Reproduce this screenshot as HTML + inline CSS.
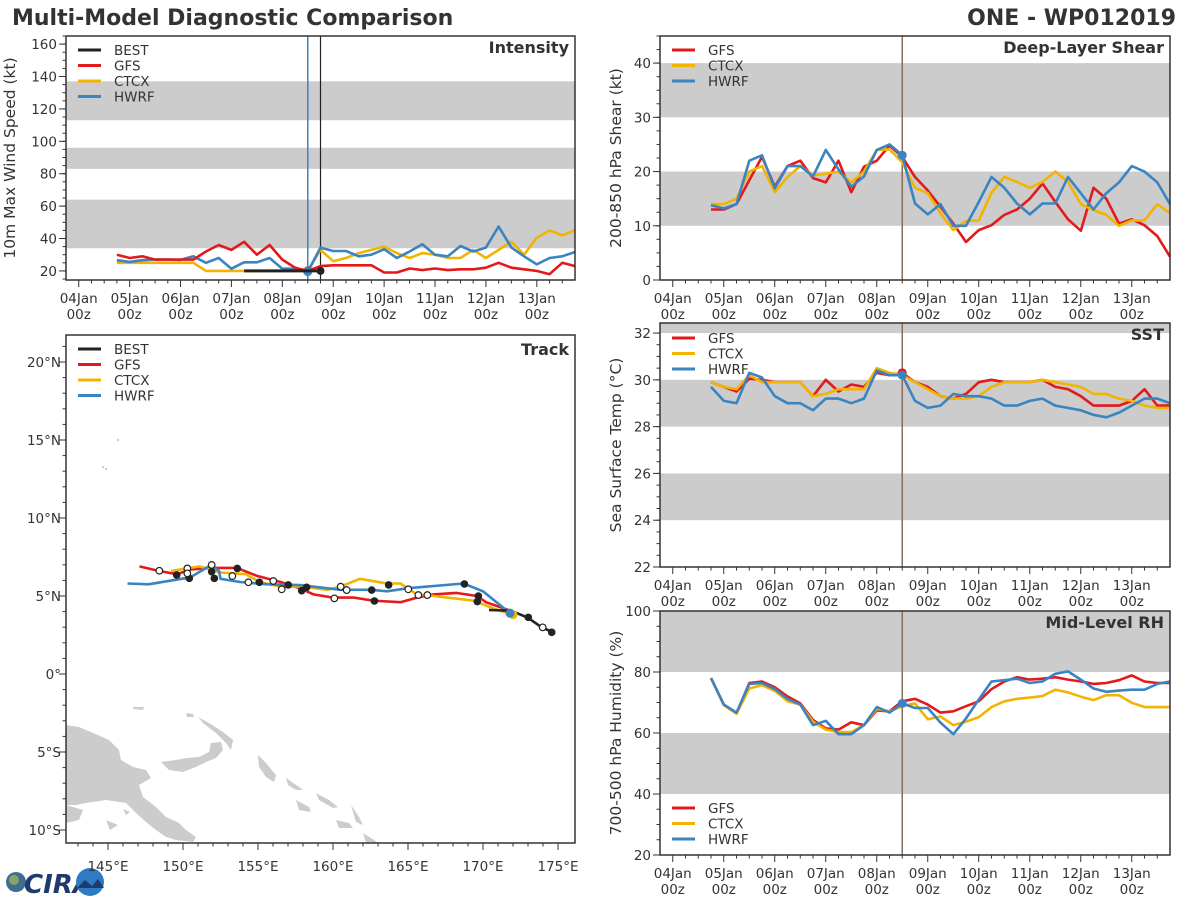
<!DOCTYPE html>
<html><head><meta charset="utf-8"><style>
html,body{margin:0;padding:0;background:#fff;}
svg{display:block;font-family:"DejaVu Sans","Liberation Sans",sans-serif;}
</style></head><body>
<svg id="chart" width="1200" height="900" viewBox="0 0 1200 900" xmlns="http://www.w3.org/2000/svg">
<rect x="0" y="0" width="1200" height="900" fill="#fff"/>
<text x="12" y="25" font-size="22" font-weight="bold" fill="#333">Multi-Model Diagnostic Comparison</text>
<text x="1176" y="25" font-size="22" font-weight="bold" fill="#333" text-anchor="end">ONE - WP012019</text>
<g>
<circle cx="16" cy="882" r="10" fill="#3d6e8f"/>
<circle cx="14" cy="880" r="5" fill="#8aa26a"/>
<text x="24" y="893" font-size="26" font-weight="bold" fill="#1f3a6e" font-style="italic">CIRA</text>
<circle cx="90" cy="882" r="14" fill="#2e7bc4"/>
<path d="M77 888 L85 880 L92 886 L98 879 L104 888 Z" fill="#1f3a6e"/>
</g>
</svg>
<script>
// ---------- data ----------
const dateLabels = ["04Jan","05Jan","06Jan","07Jan","08Jan","09Jan","10Jan","11Jan","12Jan","13Jan"];
const startDay = 0.75;   // 04Jan 18z (days since 04Jan 00z)
const stepDay = 0.25;    // 6-hourly
const initDay = 4.5;     // 08Jan 12z
const bestLastDay = 4.75;

const intensityGFS  = [30,28,29,27,27,27,27,32,36,33,38,30,36,27,22,20,23,23.5,23.5,23.5,23.5,19,19,21.5,20.5,21.5,20.5,21,21,22,25,22,21,20,18,25,23];
const intensityCTCX = [25,25,25,25,25,25,25,20,20,20,20,20,20,20,20,20,33,26,28,31,33,35,31,28,31,30,28,28,33,28,33,38,30,40.5,45,42,45];
const intensityHWRF = [26.6,25.6,26.6,27,27,26.8,29,25,28,21.4,25.3,25.3,28,21.4,21.4,19.6,34.4,32.3,32.3,29,30,33.4,28,32,36.5,30,29,35.4,32,34.4,47.4,34.4,29,24,28,29,31.7];
const bestDays = [3.25,3.5,3.75,4.0,4.25,4.5,4.75];
const bestIntensity = [20,20,20,20,20,20,20];

const shearGFS  = [13,13,14,18.4,22.7,17.2,21,22,18.8,18,22,16.2,20.9,22,24.8,22.7,19,16.5,13.5,10.4,7,9.2,10.1,12,13,15,17.8,14.4,11.2,9.1,17,15,10.4,11.2,10.1,8.1,4.3];
const shearCTCX = [14,14,15,20,21,16.2,19,21,19.3,19.6,20,18,20,24,24.1,21.7,17,16,12.3,9.2,10.9,11,16.1,19,18.1,17,18.1,20,18.1,14,12.9,12,10,11,11,14,12.3];
const shearHWRF = [13.8,13.2,14,22,23,16.9,21,21,19.1,24,20.4,17.2,19.1,24,25,23,14.1,12.1,14,10,10,14.4,19,17,14.1,12.1,14.1,14.1,19,16,13,16,18,21,20,18,14];

const sstGFS  = [29.9,29.7,29.5,30.05,30,29.9,29.9,29.9,29.3,30,29.5,29.8,29.7,30.3,30.2,30.3,29.9,29.7,29.3,29.2,29.4,29.9,30,29.9,29.9,29.9,30,29.7,29.6,29.3,28.9,28.9,28.9,29.1,29.6,28.9,28.9];
const sstCTCX = [29.9,29.7,29.6,30.2,29.9,29.9,29.9,29.9,29.3,29.4,29.6,29.6,29.6,30.5,30.3,30.2,29.9,29.6,29.3,29.2,29.2,29.3,29.7,29.9,29.9,29.9,30,29.9,29.8,29.7,29.4,29.4,29.2,29.1,28.9,28.8,28.8];
const sstHWRF = [29.7,29.1,29,30.3,30.1,29.3,29,29,28.7,29.2,29.2,29,29.2,30.4,30.2,30.2,29.1,28.8,28.9,29.4,29.3,29.3,29.2,28.9,28.9,29.1,29.2,28.9,28.8,28.7,28.5,28.4,28.6,28.9,29.2,29.2,29];

const rhGFS  = [78,69.3,66.5,76.4,76.9,75,72,69.7,64.3,61.5,61.1,63.5,62.6,67.4,67.1,70.4,71.2,69.3,66.7,67.1,68.8,70.4,74.4,76.9,78.3,77.5,77.8,78.3,77.5,76.9,76.1,76.4,77.3,78.9,76.9,76.4,76.4];
const rhCTCX = [78,69.1,66.3,74.6,75.7,73.8,70.4,69.3,63.7,61.1,60.3,60.3,62.6,67.9,67.1,68.8,69.7,64.5,65.4,62.6,63.7,65.2,68.5,70.4,71.2,71.6,72.1,74.2,73.3,71.9,70.8,72.4,72.4,69.9,68.5,68.5,68.5];
const rhHWRF = [78,69.3,66.7,76.1,76.4,74.4,71.2,69.3,62.6,64,59.6,59.6,62.6,68.5,66.7,69.7,68.2,68.2,63.4,59.6,64.8,71,76.9,77.3,77.8,76.4,76.9,79.4,80.2,77.5,74.6,73.5,73.9,74.2,74.2,76.1,76.9];

// track (lon degE, lat degN)
const trackGFSLon = [147.1,148.4,149.6,150.5,151.9,153.6,154.9,156.5,157.8,158.7,160.0,161.4,162.7,164.5,165.6,166.7,168.2,169.6,170.2,172.0];
const trackGFSLat = [6.9,6.6,6.4,6.7,6.8,6.8,6.3,5.9,5.5,5.1,4.9,4.9,4.7,4.6,4.9,5.1,5.2,5.0,4.6,4.0];
const trackCTCXLon = [149.2,151.1,152.5,154.2,155.1,156.5,158.0,159.6,160.5,161.8,163.6,164.5,165.6,166.7,169.4,170.7,172.0];
const trackCTCXLat = [6.6,6.9,6.5,6.4,5.9,5.6,5.6,5.4,5.6,6.1,5.8,5.8,5.1,5.0,4.7,4.2,3.8];
const trackHWRFLon = [146.3,147.7,150.5,151.9,152.4,152.5,153.8,155.6,157.8,160.5,162.5,163.6,165.0,168.7,170.0,171.8];
const trackHWRFLat = [5.8,5.75,6.2,7.0,6.6,6.1,5.9,5.75,5.7,5.4,5.4,5.3,5.5,5.8,5.3,3.9];
const trackBestLon = [170.4,171.9,173.0,173.9,174.6];
const trackBestLat = [4.1,4.05,3.6,3.0,2.7];
const openMarkLon = [148.42,150.29,150.29,151.91,153.29,154.36,156.02,156.58,160.09,160.51,160.91,165.02,165.69,166.29,173.98];
const openMarkLat = [6.62,6.77,6.45,6.99,6.28,5.88,5.96,5.43,4.85,5.6,5.38,5.43,5.06,5.06,2.99];
const fillMarkLon = [149.58,150.42,151.91,152.09,153.62,155.09,157.02,157.91,158.24,162.58,162.76,163.71,168.76,169.69,169.62,173.02,174.58];
const fillMarkLat = [6.35,6.13,6.56,6.13,6.77,5.88,5.71,5.34,5.56,5.38,4.68,5.71,5.77,5.0,4.64,3.63,2.67];

const C = {BEST:"#222222", GFS:"#e31a1c", CTCX:"#f2b400", HWRF:"#3a84c1"};

// ---------- helpers ----------
const NS = "http://www.w3.org/2000/svg";
const svg = document.getElementById("chart");
const FS = 13.5;
function mk(tag, attrs, parent){
  const e = document.createElementNS(NS, tag);
  for (const k in attrs) e.setAttribute(k, attrs[k]);
  (parent || svg).appendChild(e);
  return e;
}
function txt(s, attrs, parent){ const t = mk("text", attrs, parent); t.textContent = s; return t; }

function tsPanel(p){
  const g = mk("g", {});
  
  
  const X = d => p.x0 + (d - (-0.25)) / 10 * (p.x1 - p.x0);
  const Y = v => p.y1 - (v - p.vmin) / (p.vmax - p.vmin) * (p.y1 - p.y0);
  p.bands.forEach(b => {
    const lo = Math.max(b[0], p.vmin), hi = Math.min(b[1], p.vmax);
    const r = mk("rect", {x:p.x0, y:Y(hi), width:p.x1-p.x0, height:Y(lo)-Y(hi), fill:"#cccccc"}, g);
    
    
  });
  (p.vlines || []).forEach(vl => {
    const l = mk("line", {x1:X(vl.d), x2:X(vl.d), y1:p.y0, y2:p.y1, stroke:vl.c, "stroke-width":vl.w}, g);
    
    
  });
  p.series.forEach(s => {
    const pts = s.vals.map((v, i) => X(startDay + i*stepDay).toFixed(1) + "," + Y(v).toFixed(1)).join(" ");
    const pl = mk("polyline", {points:pts, fill:"none", stroke:C[s.key], "stroke-width":2.6, "stroke-linejoin":"round"}, g);
    
    
  });
  if (p.dot) {
    const di = Math.round((initDay - startDay)/stepDay);
    p.dot.forEach(k => {
      const s = p.series.find(q => q.key === k);
      const c = mk("circle", {cx:X(initDay), cy:Y(s.vals[di]), r:4.5, fill:C[k]}, g);
      
      
    });
  }
  if (p.extra) p.extra(g, X, Y);
  const f = mk("rect", {x:p.x0, y:p.y0, width:p.x1-p.x0, height:p.y1-p.y0, fill:"none", stroke:"#333", "stroke-width":1.5}, g);
  
  
  for (let q = 0; q < 40; q++) {
    const d = -0.25 + q*0.25;
    if (d < -0.2) continue;
    const major = Math.abs(d - Math.round(d)) < 1e-6;
    mk("line", {x1:X(d), x2:X(d), y1:p.y1, y2:p.y1 + (major?7:3.5), stroke:"#333", "stroke-width":1}, g);
  }
  dateLabels.forEach((lab, i) => {
    const t1 = txt(lab, {x:X(i), y:p.y1+23, "font-size":FS, fill:"#333", "text-anchor":"middle"}, g);
    
    
    const t2 = txt("00z", {x:X(i), y:p.y1+39, "font-size":FS, fill:"#333", "text-anchor":"middle"}, g);
    
    
  });
  for (let v = Math.ceil(p.vmin/p.minor)*p.minor; v <= p.vmax + 1e-6; v += p.minor) {
    mk("line", {x1:p.x0, x2:p.x0-3.5, y1:Y(v), y2:Y(v), stroke:"#333", "stroke-width":1}, g);
  }
  p.yticks.forEach(v => {
    mk("line", {x1:p.x0, x2:p.x0-7, y1:Y(v), y2:Y(v), stroke:"#333", "stroke-width":1}, g);
    const t = txt(String(v), {x:p.x0-9, y:Y(v)+5, "font-size":FS, fill:"#333", "text-anchor":"end"}, g);
    
    
  });
  const cy = (p.y0 + p.y1)/2;
  const yl = txt(p.ylabel, {x:p.ylx, y:cy, "font-size":15.5, fill:"#333", "text-anchor":"middle", transform:"rotate(-90 " + p.ylx + " " + cy + ")"}, g);
  
  
  const tt = txt(p.title, {x:p.x1-6, y:p.y0+17, "font-size":16, "font-weight":"bold", fill:"#333", "text-anchor":"end"}, g);
  
  
  legend(g, p.legendKeys, p.x0+12, p.legendY);
}
function legend(g, keys, x, y){
  keys.forEach((k, i) => {
    const yy = y + i*15.5;
    const l = mk("line", {x1:x, x2:x+23, y1:yy, y2:yy, stroke:C[k], "stroke-width":3}, g);
    
    
    const t = txt(k, {x:x+36, y:yy+5, "font-size":FS, fill:"#333"}, g);
    
    
  });
}

tsPanel({name:"intensity", x0:66, x1:575, y0:36, y1:280, vmin:14.4, vmax:165, minor:5,
  bands:[[34,64],[83,96],[113,137]], yticks:[20,40,60,80,100,120,140,160],
  ylabel:"10m Max Wind Speed (kt)", ylx:15, title:"Intensity",
  vlines:[{d:initDay, c:"#3a84c1", w:1.5},{d:bestLastDay, c:"#222", w:1.2}],
  series:[{key:"CTCX", vals:intensityCTCX},{key:"HWRF", vals:intensityHWRF},{key:"GFS", vals:intensityGFS}],
  dot:["GFS","HWRF"], legendKeys:["BEST","GFS","CTCX","HWRF"], legendY:50,
  extra:(g, X, Y) => {
    const pts = bestDays.map((d, i) => X(d) + "," + Y(bestIntensity[i])).join(" ");
    const b = mk("polyline", {points:pts, fill:"none", stroke:C.BEST, "stroke-width":3}, g);
    
    
    const n = bestDays.length - 1;
    const c = mk("circle", {cx:X(bestDays[n]), cy:Y(bestIntensity[n]), r:4, fill:C.BEST}, g);
    
    
  }
});

tsPanel({name:"shear", x0:660, x1:1170, y0:36, y1:280, vmin:0, vmax:45, minor:2.5,
  bands:[[10,20],[30,40]], yticks:[0,10,20,30,40],
  ylabel:"200-850 hPa Shear (kt)", ylx:621, title:"Deep-Layer Shear",
  vlines:[{d:initDay, c:"#8c6d55", w:1.5}],
  series:[{key:"GFS", vals:shearGFS},{key:"CTCX", vals:shearCTCX},{key:"HWRF", vals:shearHWRF}],
  dot:["HWRF"], legendKeys:["GFS","CTCX","HWRF"], legendY:50});

tsPanel({name:"sst", x0:660, x1:1170, y0:323, y1:567, vmin:22, vmax:32.43, minor:0.5,
  bands:[[24,26],[28,30],[32,34]], yticks:[22,24,26,28,30,32],
  ylabel:"Sea Surface Temp (\u00B0C)", ylx:621, title:"SST",
  vlines:[{d:initDay, c:"#8c6d55", w:1.5}],
  series:[{key:"GFS", vals:sstGFS},{key:"CTCX", vals:sstCTCX},{key:"HWRF", vals:sstHWRF}],
  dot:["GFS","HWRF"], legendKeys:["GFS","CTCX","HWRF"], legendY:338});

tsPanel({name:"rh", x0:660, x1:1170, y0:611, y1:855, vmin:20, vmax:100, minor:5,
  bands:[[40,60],[80,100]], yticks:[20,40,60,80,100],
  ylabel:"700-500 hPa Humidity (%)", ylx:621, title:"Mid-Level RH",
  vlines:[{d:initDay, c:"#8c6d55", w:1.5}],
  series:[{key:"GFS", vals:rhGFS},{key:"CTCX", vals:rhCTCX},{key:"HWRF", vals:rhHWRF}],
  dot:["HWRF"], legendKeys:["GFS","CTCX","HWRF"], legendY:808});

// ---------- track ----------
(function(){
  const g = mk("g", {});
  
  
  const x0 = 66, x1 = 575, y0 = 335, y1 = 843;
  const LX = lon => 108 + (lon - 145) * 15;
  const LY = lat => 674 - lat * 15.6;
  const land = [
    "66,725 79,727 98,735 109,740 119,750 121,760 133,767 146,770 151,778 139,785 143,797 156,807 166,817 179,823 186,830 196,837 193,842 176,840 166,837 156,830 146,822 136,813 126,803 106,800 86,803 76,805 66,805",
    "66,805 83,810 79,820 66,823",
    "161,762 176,760 186,758 199,757 209,752 211,743 221,742 223,750 216,758 206,762 196,767 183,772 169,770",
    "198,717 209,723 223,732 233,740 231,750 226,743 216,733 203,723",
    "258,755 266,763 276,775 274,782 266,777 259,767",
    "286,778 299,787 303,790 296,790 288,785",
    "316,793 329,800 338,807 333,808 319,800",
    "296,800 309,807 311,812 299,810",
    "336,820 349,823 353,828 339,828",
    "351,805 359,817 363,825 356,822",
    "363,833 374,840 378,843 366,843",
    "133,707 144,707 143,710 133,709",
    "186,713 193,714 194,717 187,717",
    "106,820 118,825 110,830",
    "123,809 130,812 126,815"
  ];
  land.forEach(pts => {
    const p = mk("polygon", {points:pts, fill:"#cccccc"}, g);
    
    
  });
  [[103,467],[106,469],[118,440]].forEach(q => {
    const c = mk("circle", {cx:q[0], cy:q[1], r:1, fill:"#bbb"}, g);
    
    
  });
  function line(lons, lats, key, w){
    const pts = lons.map((lo, i) => LX(lo).toFixed(1) + "," + LY(lats[i]).toFixed(1)).join(" ");
    const pl = mk("polyline", {points:pts, fill:"none", stroke:C[key], "stroke-width":w, "stroke-linejoin":"round"}, g);
    
    
  }
  line(trackGFSLon, trackGFSLat, "GFS", 2.6);
  line(trackCTCXLon, trackCTCXLat, "CTCX", 2.6);
  line(trackHWRFLon, trackHWRFLat, "HWRF", 2.6);
  line(trackBestLon, trackBestLat, "BEST", 2.6);
  fillMarkLon.forEach((lo, i) => {
    const c = mk("circle", {cx:LX(lo), cy:LY(fillMarkLat[i]), r:3.8, fill:"#222"}, g);
    
    
  });
  openMarkLon.forEach((lo, i) => {
    const c = mk("circle", {cx:LX(lo), cy:LY(openMarkLat[i]), r:3.3, fill:"#fff", stroke:"#222", "stroke-width":1.2}, g);
    
    
  });
  const ci = trackCTCXLon.length - 1, hi = trackHWRFLon.length - 1;
  const c1 = mk("circle", {cx:LX(trackCTCXLon[ci]), cy:LY(trackCTCXLat[ci]), r:4.5, fill:C.CTCX}, g);
  
  
  const c2 = mk("circle", {cx:LX(trackHWRFLon[hi]), cy:LY(trackHWRFLat[hi]), r:4.5, fill:C.HWRF}, g);
  
  
  const f = mk("rect", {x:x0, y:y0, width:x1-x0, height:y1-y0, fill:"none", stroke:"#333", "stroke-width":1.5}, g);
  
  
  for (let lo = 143; lo <= 175; lo++) {
    const major = lo % 5 === 0;
    if (LX(lo) < x0 || LX(lo) > x1) continue;
    mk("line", {x1:LX(lo), x2:LX(lo), y1:y1, y2:y1+(major?7:3.5), stroke:"#333", "stroke-width":1}, g);
    if (major) {
      const t = txt(lo + "\u00B0E", {x:LX(lo), y:y1+28, "font-size":FS, fill:"#333", "text-anchor":"middle"}, g);
      
      
    }
  }
  for (let la = -10; la <= 21; la++) {
    const major = la % 5 === 0;
    mk("line", {x1:x0, x2:x0-(major?7:3.5), y1:LY(la), y2:LY(la), stroke:"#333", "stroke-width":1}, g);
    if (major) {
      const lab = la === 0 ? "0\u00B0" : Math.abs(la) + "\u00B0" + (la > 0 ? "N" : "S");
      const t = txt(lab, {x:x0-5, y:LY(la)+5, "font-size":FS, fill:"#333", "text-anchor":"end"}, g);
      
      
    }
  }
  const tt = txt("Track", {x:x1-6, y:y0+20, "font-size":16, "font-weight":"bold", fill:"#333", "text-anchor":"end"}, g);
  
  
  legend(g, ["BEST","GFS","CTCX","HWRF"], x0+12, 349);
})();
</script>
</body></html>
